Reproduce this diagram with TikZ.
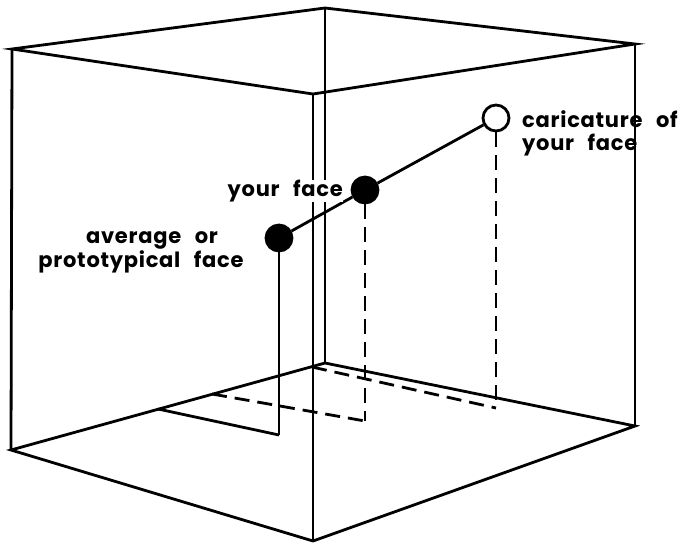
\documentclass[tikz,border=0pt]{standalone}
\usepackage{fontspec}
\setmainfont{Poppins}[LetterSpace=3.5, WordSpace=2.6]
\begin{document}
\begin{tikzpicture}[x=1pt,y=-1pt,
  edge/.style={line width=2.8pt, line join=miter},
  hid/.style={line width=2.8pt, dash pattern=on 15pt off 8pt},
  dot/.style={circle, draw, line width=2.8pt, minimum size=26pt, inner sep=0pt},
  lbl/.style={font=\fontsize{21}{24}\selectfont\bfseries, inner sep=0pt}]
\useasboundingbox (0,0) rectangle (684,544);
% cube corners
\coordinate (A) at (12,49);
\coordinate (B) at (325,8);
\coordinate (D) at (635,44);
\coordinate (C) at (313,94);
\coordinate (E) at (11,450);
\coordinate (G) at (325,363);
\coordinate (H) at (635,426);
\coordinate (F) at (313,541);
\draw[edge] (A) -- (B) -- (D) -- (C) -- cycle;
\draw[edge] (E) -- (G) -- (H) -- (F) -- cycle;
\draw[edge] (A) -- (E);
\draw[edge] (B) -- (G);
\draw[edge] (C) -- (F);
\draw[edge] (D) -- (H);
% floor projections
\coordinate (avgF) at (279,435);
\coordinate (avgW) at (158,409);
\coordinate (yourF) at (365,421);
\coordinate (yourW) at (212,394);
\coordinate (carF) at (496,408);
\coordinate (carW) at (312,367);
\draw[edge] (avgW) -- (avgF);
\draw[hid] (yourW) -- (yourF);
\draw[hid] (carW) -- (carF);
% face points
\node[dot, fill=black] (avg) at (279,238) {};
\node[dot, fill=black] (your) at (365,190) {};
\node[dot, fill=white] (car) at (496,118) {};
\draw[edge] (avg) -- (your);
\draw[edge] (your) -- (car);
\draw[edge] (avg) -- (avgF);
\draw[hid] (your) -- (yourF);
\draw[hid] (car) -- (carF);
% labels
\node[lbl, fill=white, anchor=base east] (lyour) at (343,196) {your face};
\node[lbl, anchor=base] (lavg1) at (152,243) {average or};
\node[lbl, anchor=base] (lavg2) at (141,267) {prototypical face};
\node[lbl, anchor=base west] (lcar1) at (522,127) {caricature of};
\node[lbl, anchor=base west] (lcar2) at (522,150) {your face};
\end{tikzpicture}
\end{document}
